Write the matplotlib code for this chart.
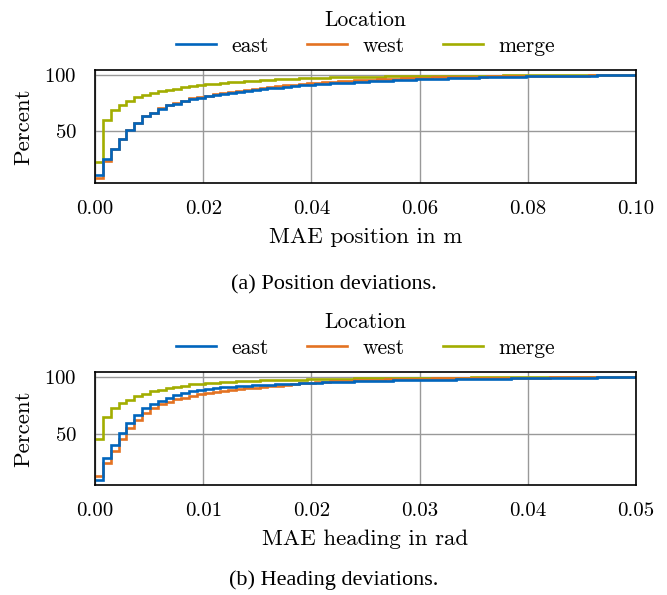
import numpy as np
import matplotlib
matplotlib.use("Agg")
import matplotlib.pyplot as plt

# cumulative percent per bin (69 bins up to the x limit)
locations = ["east", "west", "merge"]
colors = {"east": "#0065BD", "west": "#E37222", "merge": "#A2AD00"}

pos_xmax = 0.10
pos_east = [10.7, 25.1, 34.4, 43.3, 51.4, 57.7, 63.1, 66.1, 69.7, 73.0, 74.5, 76.6, 78.7, 79.9,
            81.3, 82.4, 83.4, 84.3, 85.2, 86.0, 86.8, 87.5, 88.2, 88.9, 89.6, 90.2, 90.8, 91.4,
            91.8, 92.2, 92.6, 93.0, 93.4, 93.8, 94.1, 94.5, 94.8, 95.1, 95.4, 95.7, 96.0, 96.3,
            96.5, 96.7, 96.9, 97.1, 97.3, 97.5, 97.7, 97.9, 98.0, 98.2, 98.3, 98.5, 98.6, 98.8,
            98.9, 99.0, 99.1, 99.2, 99.3, 99.4, 99.5, 99.6, 99.7, 99.75, 99.8, 99.9, 100.0]
pos_west = [8.3, 23.6, 33.8, 42.6, 51.0, 57.4, 63.4, 66.6, 70.3, 73.6, 75.3, 77.3, 79.3, 80.6,
            81.8, 83.0, 84.1, 85.1, 86.1, 87.0, 87.8, 88.6, 89.4, 90.1, 90.8, 91.5, 92.2, 92.8,
            93.3, 93.8, 94.2, 94.6, 95.0, 95.4, 95.7, 96.0, 96.3, 96.6, 96.9, 97.1, 97.3, 97.5,
            97.7, 97.9, 98.0, 98.2, 98.3, 98.5, 98.6, 98.7, 98.8, 98.9, 99.0, 99.1, 99.2, 99.3,
            99.35, 99.4, 99.45, 99.5, 99.55, 99.6, 99.65, 99.7, 99.75, 99.8, 99.85, 99.9, 100.0]
pos_merge = [22.7, 60.1, 68.8, 73.6, 77.2, 80.2, 82.3, 84.1, 85.6, 87.1, 88.0, 89.2, 90.2, 91.0,
             91.7, 92.4, 93.0, 93.6, 94.1, 94.6, 95.0, 95.4, 95.8, 96.2, 96.5, 96.8, 97.1, 97.4,
             97.6, 97.8, 98.0, 98.2, 98.3, 98.4, 98.5, 98.6, 98.7, 98.8, 98.9, 99.0, 99.1, 99.2,
             99.25, 99.3, 99.35, 99.4, 99.45, 99.5, 99.55, 99.6, 99.62, 99.65, 99.7, 99.72, 99.75, 99.8,
             99.82, 99.84, 99.86, 99.88, 99.9, 99.91, 99.92, 99.94, 99.95, 99.96, 99.98, 99.99, 100.0]

head_xmax = 0.05
head_east = [9.2, 28.6, 39.9, 50.9, 59.8, 66.7, 72.3, 76.2, 79.2, 81.5, 83.9, 86.0, 87.5, 88.7,
             89.8, 90.5, 91.1, 91.6, 92.0, 92.4, 92.8, 93.1, 93.4, 93.7, 94.0, 94.3, 94.6, 94.9,
             95.2, 95.4, 95.6, 95.8, 96.0, 96.2, 96.4, 96.6, 96.8, 96.9, 97.1, 97.2, 97.4, 97.5,
             97.6, 97.7, 97.8, 97.9, 98.0, 98.2, 98.3, 98.4, 98.5, 98.6, 98.7, 98.8, 98.9, 99.0,
             99.1, 99.2, 99.3, 99.35, 99.4, 99.5, 99.55, 99.6, 99.7, 99.75, 99.8, 99.9, 100.0]
head_west = [12.2, 24.4, 34.5, 45.5, 55.4, 61.9, 68.2, 72.6, 76.2, 78.3, 80.4, 81.8, 83.6, 85.1,
             86.2, 87.2, 88.1, 88.9, 89.6, 90.2, 90.8, 91.4, 92.0, 92.6, 93.2, 93.8, 94.4, 95.0,
             95.5, 95.9, 96.3, 96.6, 96.9, 97.2, 97.5, 97.7, 97.9, 98.1, 98.3, 98.4, 98.5, 98.6,
             98.7, 98.8, 98.9, 99.0, 99.1, 99.15, 99.2, 99.3, 99.35, 99.4, 99.45, 99.5, 99.55, 99.6,
             99.62, 99.65, 99.68, 99.7, 99.73, 99.76, 99.8, 99.83, 99.86, 99.9, 99.93, 99.96, 100.0]
head_merge = [45.5, 65.2, 72.6, 77.1, 80.1, 83.0, 85.1, 87.5, 89.0, 90.5, 91.7, 92.6, 93.5, 94.3,
              94.8, 95.2, 95.6, 96.0, 96.3, 96.6, 96.9, 97.1, 97.3, 97.5, 97.7, 97.8, 97.9, 98.0,
              98.15, 98.3, 98.45, 98.6, 98.7, 98.8, 98.9, 99.0, 99.1, 99.2, 99.25, 99.3, 99.35, 99.4,
              99.45, 99.5, 99.55, 99.6, 99.63, 99.66, 99.7, 99.73, 99.76, 99.8, 99.82, 99.84, 99.86, 99.88,
              99.89, 99.9, 99.91, 99.92, 99.93, 99.94, 99.95, 99.96, 99.97, 99.98, 99.99, 99.995, 100.0]

plt.rcParams['font.family'] = 'cmr10'
plt.rcParams['axes.formatter.use_mathtext'] = True
plt.rcParams['font.size'] = 15

W, H = 667, 595
fig = plt.figure(figsize=(W / 100, H / 100), dpi=100)


def draw_panel(rect, series, xmax, xlabel, caption, cap_y):
    ax = fig.add_axes(rect)
    edges = np.linspace(0, xmax, len(series["east"]) + 1)
    # seaborn-like order: last hue drawn first
    for loc in reversed(locations):
        ax.stairs(series[loc], edges, baseline=None, color=colors[loc], lw=1.9, label=loc)
    ax.set_xlim(0, xmax)
    lo = min(min(v) for v in series.values())
    span = 100 - lo
    ax.set_ylim(lo - 0.05 * span, 100 + 0.05 * span)
    ax.set_yticks([50, 100])
    ax.set_xticks(np.linspace(0, xmax, 6))
    ax.xaxis.set_major_formatter(matplotlib.ticker.FormatStrFormatter('%.2f'))
    ax.grid(True, color='#999999', lw=1.0)
    ax.set_axisbelow(True)
    ax.tick_params(axis='x', length=0, pad=12)
    ax.tick_params(axis='y', length=0, pad=13)
    for sp in ax.spines.values():
        sp.set_linewidth(1.2)
    ax.set_ylabel('Percent', labelpad=8, fontsize=16.5)
    ax.set_xlabel(xlabel, labelpad=7, fontsize=16.5)
    handles, labels = ax.get_legend_handles_labels()
    order = [labels.index(l) for l in locations]
    ax.legend([handles[i] for i in order], locations, title='Location', ncol=3,
              loc='lower center', bbox_to_anchor=(0.5, 1.0), frameon=False,
              handlelength=1.85, columnspacing=1.8, handletextpad=0.72,
              labelspacing=0.3, borderaxespad=0.25, fontsize=15.5, title_fontsize=15.5)
    fig.text(0.5, cap_y, caption, ha='center', va='center',
             family='Liberation Serif', fontsize=16)
    return ax


draw_panel([95 / W, 1 - 183 / H, 541 / W, 113 / H],
           {"east": pos_east, "west": pos_west, "merge": pos_merge},
           pos_xmax, 'MAE position in m', '(a) Position deviations.', 1 - 285 / H)
draw_panel([95 / W, 1 - 485 / H, 541 / W, 113 / H],
           {"east": head_east, "west": head_west, "merge": head_merge},
           head_xmax, 'MAE heading in rad', '(b) Heading deviations.', 1 - 580 / H)

fig.savefig('out.png', dpi=100)
